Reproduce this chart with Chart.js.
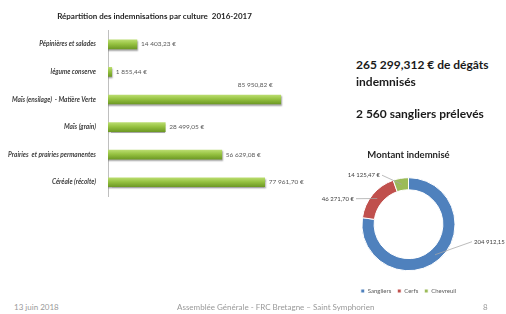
<!DOCTYPE html>
<html>
<head>
<meta charset="utf-8">
<script src="https://cdn.jsdelivr.net/npm/chart.js@4"></script>
<style>
  body { margin: 0; background: #fff; font-family: Lato, "Open Sans", sans-serif; }
  #slide { position: relative; width: 506px; height: 314px; overflow: hidden; }
  #barCanvas { position: absolute; left: 0; top: 0; }
  #donutCanvas { position: absolute; left: 306px; top: 140px; }
  .big { position: absolute; left: 356px; font-weight: bold; font-size: 12px; color: #1a1a1a; white-space: nowrap; }
  .foot { position: absolute; top: 302px; font-size: 8px; color: #999999; white-space: nowrap; }
</style>
</head>
<body>
<div id="slide">
  <canvas id="barCanvas" width="316" height="205"></canvas>
  <canvas id="donutCanvas" width="205" height="167"></canvas>
  <div class="big" style="top:57px">265 299,312 € de dégâts</div>
  <div class="big" style="top:74px">indemnisés</div>
  <div class="big" style="top:106px">2 560 sangliers prélevés</div>
  <div class="foot" style="left:14px">13 juin 2018</div>
  <div class="foot" style="left:177px">Assemblée Générale - FRC Bretagne – Saint Symphorien</div>
  <div class="foot" style="left:483px">8</div>
</div>
<script>
// indemnisations par culture 2016-2017
const categories = ['Pépinières et salades', 'légume conserve', 'Maïs (ensilage)  - Matière Verte', 'Maïs (grain)', 'Prairies  et prairies permanentes', 'Céréale (récolte)'];
const cultureValues = [14403.23, 1855.44, 85950.82, 28499.05, 56629.08, 77961.70];

// montant indemnisé par espèce
const especes = ['Sangliers', 'Cerfs', 'Chevreuil'];
const montantValues = [204912.15, 46271.70, 14125.47];
const especeColors = ['#4f81bd', '#c0504d', '#9bbb59'];

// position des étiquettes du donut (par rapport au centre)
const donutLabelPos = [
    { dx: 65.5, dy: 17.5, align: 'left' },
    { dx: -54.5, dy: -25.5, align: 'right' },
    { dx: -28.5, dy: -49, align: 'right' }
];

function euro(v) {
    const parts = v.toFixed(2).split('.');
    return parts[0].replace(/\B(?=(\d{3})+(?!\d))/g, ' ') + ',' + parts[1] + ' €';
}

const barLabels = {
    id: 'barLabels',
    beforeDatasetsDraw(chart) {
        const ctx = chart.ctx;
        ctx.save();
        ctx.shadowColor = 'rgba(0,0,0,0.35)';
        ctx.shadowOffsetY = 1.5;
        ctx.shadowOffsetX = 0.5;
        ctx.shadowBlur = 1.5;
    },
    afterDatasetsDraw(chart) {
        const ctx = chart.ctx;
        ctx.restore();
        ctx.save();
        ctx.font = '6.5px Lato, sans-serif';
        ctx.fillStyle = '#595959';
        ctx.textBaseline = 'middle';
        chart.getDatasetMeta(0).data.forEach((bar, i) => {
            const txt = euro(cultureValues[i]);
            const w = ctx.measureText(txt).width;
            if (bar.x + 4 + w > chart.chartArea.right) {
                ctx.textAlign = 'right';
                ctx.fillText(txt, bar.x - 8, bar.y - 15);
            } else {
                ctx.textAlign = 'left';
                ctx.fillText(txt, bar.x + 4, bar.y);
            }
        });
        ctx.restore();
    }
};

new Chart(document.getElementById('barCanvas'), {
    type: 'bar',
    data: {
        labels: categories,
        datasets: [{
            data: cultureValues,
            backgroundColor: function (c) {
                const chart = c.chart;
                if (!chart.chartArea || !chart.scales.y) return '#8db83a';
                const y = chart.scales.y.getPixelForValue(c.dataIndex);
                const g = chart.ctx.createLinearGradient(0, y - 4.5, 0, y + 4.5);
                g.addColorStop(0, '#b9dc6e');
                g.addColorStop(0.45, '#96c241');
                g.addColorStop(1, '#6e9a25');
                return g;
            },
            barThickness: 9
        }]
    },
    options: {
        indexAxis: 'y',
        responsive: false,
        animation: false,
        layout: { padding: { left: 0, right: 7, bottom: 9 } },
        scales: {
            x: { display: false, min: 0, max: 100000 },
            y: {
                grid: { display: false },
                border: { display: true, color: '#bfbfbf', width: 1 },
                ticks: {
                    padding: 4,
                    color: '#404040',
                    font: { family: 'Lato', style: 'italic', weight: 'bold', size: 6.5 }
                },
                afterFit(scale) { scale.width = 108; }
            }
        },
        plugins: {
            legend: { display: false },
            tooltip: { enabled: false },
            title: {
                display: true,
                text: 'Répartition des indemnisations par culture  2016-2017',
                color: '#262626',
                font: { family: 'Lato', weight: 'bold', size: 8 },
                padding: { top: 12, bottom: 9 }
            }
        }
    },
    plugins: [barLabels]
});

const donutLabels = {
    id: 'donutLabels',
    afterDatasetsDraw(chart) {
        const ctx = chart.ctx;
        ctx.save();
        ctx.font = '6px Lato, sans-serif';
        ctx.fillStyle = '#404040';
        ctx.strokeStyle = '#a6a6a6';
        ctx.lineWidth = 0.75;
        ctx.textBaseline = 'middle';
        chart.getDatasetMeta(0).data.forEach((arc, i) => {
            const mid = (arc.startAngle + arc.endAngle) / 2;
            const r = (arc.innerRadius + arc.outerRadius) / 2;
            const px = arc.x + Math.cos(mid) * r;
            const py = arc.y + Math.sin(mid) * r;
            const pos = donutLabelPos[i];
            const tx = arc.x + pos.dx;
            const ty = arc.y + pos.dy;
            ctx.beginPath();
            ctx.moveTo(px, py);
            ctx.lineTo(pos.align === 'left' ? tx - 2 : tx + 2, ty);
            ctx.stroke();
            ctx.textAlign = pos.align;
            ctx.fillText(euro(montantValues[i]), tx, ty);
        });
        ctx.restore();
    }
};

new Chart(document.getElementById('donutCanvas'), {
    type: 'doughnut',
    data: {
        labels: especes,
        datasets: [{
            data: montantValues,
            backgroundColor: especeColors,
            borderColor: '#ffffff',
            borderWidth: 1,
            radius: 46.5
        }]
    },
    options: {
        responsive: false,
        animation: false,
        cutout: '74%',
        layout: { padding: { bottom: 3 } },
        plugins: {
            tooltip: { enabled: false },
            title: {
                display: true,
                text: 'Montant indemnisé',
                color: '#262626',
                font: { family: 'Lato', weight: 'bold', size: 9.5 },
                padding: { top: 9, bottom: 6 }
            },
            legend: {
                position: 'bottom',
                labels: {
                    boxWidth: 4,
                    boxHeight: 4,
                    padding: 6,
                    color: '#595959',
                    font: { family: 'Lato', size: 6 }
                }
            }
        }
    },
    plugins: [donutLabels]
});
</script>
</body>
</html>
